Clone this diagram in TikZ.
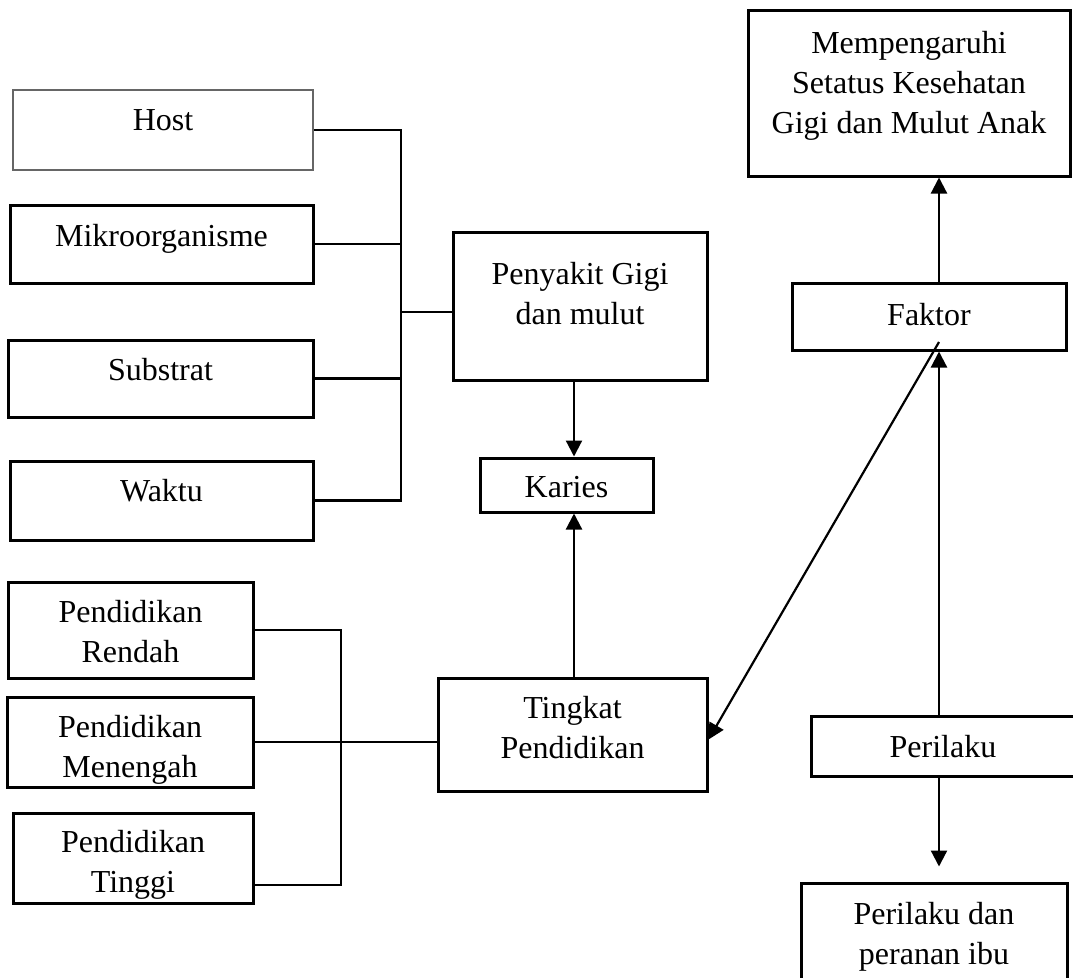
\documentclass[tikz,border=0pt]{standalone}
\usepackage{fontspec}
\setmainfont{Liberation Serif}
\usetikzlibrary{arrows.meta,calc}

\begin{document}
\begin{tikzpicture}[x=1pt,y=-1pt,
    kotak/.style ={rectangle, draw=black, line width=3pt, fill=white,
      align=center, inner sep=0pt, font=\fontsize{32}{40}\selectfont},
    geser/.style ={text height=#1, text depth=0pt},
    garis/.style ={draw, line width=2.2pt},
    panah/.style ={draw, line width=2.2pt, -{Triangle[width=16pt,length=16pt]}}]
    \useasboundingbox (0,0) rectangle (1073,977);
    % left column: causes
    \node [kotak, draw=black!60, line width=1.8pt, minimum width=300pt, minimum height=80pt, geser=0pt] (host) at (163,130) {Host};
    \node [kotak, minimum width=303pt, minimum height=78pt, geser=4pt] (mikro) at (161.5,244) {Mikroorganisme};
    \node [kotak, minimum width=305pt, minimum height=77pt, geser=3pt] (substrat) at (160.5,378.5) {Substrat};
    \node [kotak, minimum width=303pt, minimum height=79pt, geser=1pt] (waktu) at (161.5,500.5) {Waktu};
    % left column: education levels
    \node [kotak, minimum width=245pt, minimum height=96pt, geser=64pt] (rendah) at (130.5,630) {Pendidikan\\Rendah};
    \node [kotak, minimum width=246pt, minimum height=90pt, geser=70pt] (menengah) at (130,742) {Pendidikan\\Menengah};
    \node [kotak, minimum width=240pt, minimum height=90pt, geser=68pt] (tinggi) at (133,858) {Pendidikan\\Tinggi};
    % middle column
    \node [kotak, minimum width=254pt, minimum height=148pt, geser=36pt] (penyakit) at (580,306) {Penyakit Gigi\\dan mulut};
    \node [kotak, minimum width=173pt, minimum height=54pt, geser=24pt] (karies) at (566.5,485) {Karies};
    \node [kotak, minimum width=269pt, minimum height=113pt, geser=48pt] (tingkat) at (572.5,734.5) {Tingkat\\Pendidikan};
    % right column
    \node [kotak, minimum width=322pt, minimum height=166pt, geser=80pt] (pengaruh) at (909,93) {Mempengaruhi\\Setatus Kesehatan\\Gigi dan Mulut Anak};
    \node [kotak, minimum width=274pt, minimum height=67pt, geser=17pt] (faktor) at (929,316.5) {Faktor};
    \node [kotak, minimum width=264pt, minimum height=60pt, geser=22pt] (perilaku) at (943,746) {Perilaku};
    \node [kotak, minimum width=266pt, minimum height=117pt, geser=45pt] (ibu) at (934,941.5) {Perilaku dan\\peranan ibu};
    % helper points for the brackets and arrows
    \coordinate (sendiA) at (401,312);
    \coordinate (sendiB) at (341,885);
    \coordinate (kx) at (574,0);
    \coordinate (fx) at (939,0);
    \coordinate (fdiag) at (939,342);
    % connecting nodes with paths
    \begin{scope}[every path/.style=garis]
      \path (host.east) -| (sendiA |- waktu.east) -- (waktu.east);
      \path (mikro.east) -- (mikro.east -| sendiA);
      \path (substrat.east) -- (substrat.east -| sendiA);
      \path (sendiA) -- (sendiA -| penyakit.west);
      \path (rendah.east) -| (sendiB) -- (sendiB -| tinggi.east);
      \path (menengah.east) -- (menengah.east -| sendiB);
      \path (menengah.east -| sendiB) -- (menengah.east -| tingkat.west);
    \end{scope}
    \begin{scope}[every path/.style=panah]
      \path (penyakit.south -| kx) -- (karies.north -| kx);
      \path (tingkat.north -| kx) -- (karies.south -| kx);
      \path (faktor.north -| fx) -- (pengaruh.south -| fx);
      \path (perilaku.north -| fx) -- (faktor.south -| fx);
      \path [shorten >=15pt] (perilaku.south -| fx) -- (ibu.north -| fx);
      \path (fdiag) -- ($(tingkat.east)+(0,5)$);
    \end{scope}
  \end{tikzpicture}
\end{document}
